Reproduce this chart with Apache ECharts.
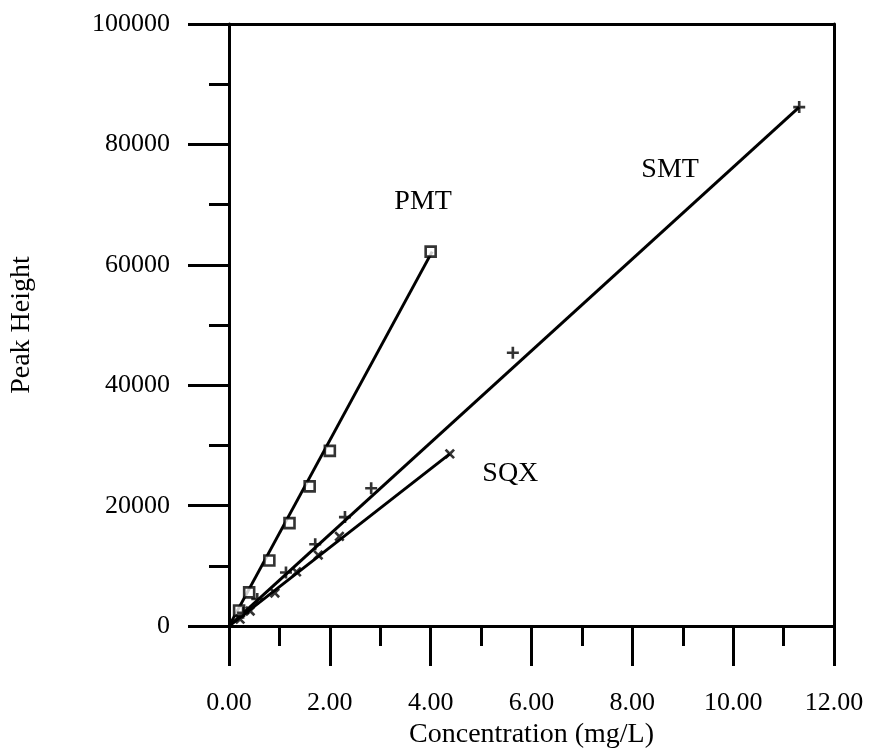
<!DOCTYPE html>
<html>
<head>
<meta charset="utf-8">
<script src="https://cdn.jsdelivr.net/npm/echarts@6/dist/echarts.min.js"></script>
<style>html,body{margin:0;padding:0;background:#fff;}#c{width:872px;height:754px;}</style>
</head>
<body>
<div id="c"></div>
<script>
// Data (x = concentration mg/L, y = peak height)
const pmtX = [0.2, 0.4, 0.8, 1.2, 1.6, 2.0, 4.0];
const pmtY = [2600, 5600, 10900, 17100, 23200, 29100, 62200];
const smtX = [0.28, 0.56, 1.13, 1.71, 2.30, 2.82, 5.63, 11.31];
const smtY = [2200, 4500, 8900, 13600, 18100, 22900, 45400, 86200];
const sqxX = [0.22, 0.42, 0.91, 1.34, 1.77, 2.19, 4.38];
const sqxY = [1150, 2500, 5500, 9000, 11800, 14900, 28600];
// fitted lines (start, end)
const pmtLineX = [0, 4.03], pmtLineY = [0, 62200];
const smtLineX = [0, 11.31], smtLineY = [0, 86200];
const sqxLineX = [0, 4.38], sqxLineY = [0, 28600];
// annotation labels and their anchors (data coordinates)
const labelNames = ['PMT', 'SMT', 'SQX'];
const labelX = [3.85, 8.75, 5.58];
const labelY = [70500, 75800, 25300];
const xTicks = [0, 2, 4, 6, 8, 10, 12];
const yTicks = [0, 20000, 40000, 60000, 80000, 100000];

const zip = (a, b) => a.map((v, i) => [v, b[i]]);
const FONT = '"Liberation Serif", "Times New Roman", serif';
const INK = '#000';
const plusPath = 'path://M3.9,0h2.2v3.9h3.9v2.2h-3.9v3.9h-2.2v-3.9h-3.9v-2.2h3.9z';

const chart = echarts.init(document.getElementById('c'), null, {renderer: 'canvas'});
const lineSeries = (x, y) => ({
  type: 'line', data: zip(x, y), showSymbol: false, symbol: 'none',
  lineStyle: {color: INK, width: 3}, silent: true, z: 2
});
chart.setOption({
  animation: false,
  backgroundColor: '#fff',
  grid: {left: 229, right: 38, top: 24, bottom: 122, containLabel: false},
  xAxis: [{
    type: 'value', min: xTicks[0], max: xTicks[xTicks.length - 1], interval: 2,
    position: 'bottom',
    name: 'Concentration (mg/L)', nameLocation: 'middle', nameGap: 93,
    nameTextStyle: {fontFamily: FONT, fontSize: 28, color: INK},
    axisLine: {show: true, lineStyle: {color: INK, width: 3}},
    axisTick: {show: true, inside: false, length: 40, lineStyle: {color: INK, width: 3}},
    minorTick: {show: true, splitNumber: 2, length: 20, lineStyle: {color: INK, width: 3}},
    axisLabel: {margin: 64, fontFamily: FONT, fontSize: 26, color: INK,
      formatter: v => v.toFixed(2)},
    splitLine: {show: false}
  }, {
    type: 'value', min: 0, max: 12, position: 'top',
    axisLine: {show: true, onZero: false, lineStyle: {color: INK, width: 3}},
    axisTick: {show: false}, axisLabel: {show: false}, splitLine: {show: false}
  }],
  yAxis: [{
    type: 'value', min: yTicks[0], max: yTicks[yTicks.length - 1], interval: 20000,
    position: 'left',
    name: 'Peak Height', nameLocation: 'middle', nameGap: 193, nameRotate: 90,
    nameTextStyle: {fontFamily: FONT, fontSize: 28, color: INK},
    axisLine: {show: true, lineStyle: {color: INK, width: 3}},
    axisTick: {show: true, inside: false, length: 41, lineStyle: {color: INK, width: 3}},
    minorTick: {show: true, splitNumber: 2, length: 20, lineStyle: {color: INK, width: 3}},
    axisLabel: {margin: 59, fontFamily: FONT, fontSize: 26, color: INK,
      formatter: v => String(v)},
    splitLine: {show: false}
  }, {
    type: 'value', min: 0, max: 100000, position: 'right',
    axisLine: {show: true, onZero: false, lineStyle: {color: INK, width: 3}},
    axisTick: {show: false}, axisLabel: {show: false}, splitLine: {show: false}
  }],
  series: [
    lineSeries(pmtLineX, pmtLineY),
    lineSeries(smtLineX, smtLineY),
    lineSeries(sqxLineX, sqxLineY),
    {type: 'scatter', data: zip(pmtX, pmtY), symbol: 'rect', symbolSize: 10,
     itemStyle: {color: '#fff', borderColor: INK, borderWidth: 2.6}, z: 3},
    {type: 'scatter', data: zip(smtX, smtY), symbol: plusPath, symbolSize: 12,
     itemStyle: {color: INK}, z: 3},
    {type: 'scatter', data: zip(sqxX, sqxY), symbol: plusPath, symbolSize: 12, symbolRotate: 45,
     itemStyle: {color: INK}, z: 3}
  ]
});
// annotation texts placed through the chart's own coordinate system
chart.setOption({
  graphic: labelNames.map((n, i) => {
    const p = chart.convertToPixel({gridIndex: 0}, [labelX[i], labelY[i]]);
    return {type: 'text', x: p[0], y: p[1], z: 10,
      style: {text: n, fill: INK, font: '28px ' + FONT, align: 'center', verticalAlign: 'middle'}};
  })
});
</script>
</body>
</html>
